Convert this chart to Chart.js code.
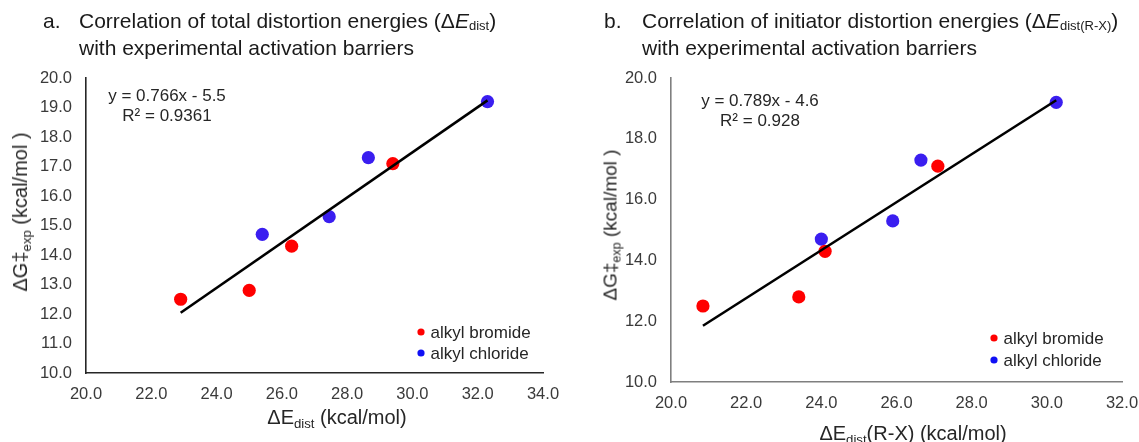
<!DOCTYPE html>
<html>
<head>
<meta charset="utf-8">
<script src="https://cdn.jsdelivr.net/npm/chart.js@4/dist/chart.umd.min.js"></script>
<style>
    html, body { margin: 0; padding: 0; background: #fff; }
    body { font-family: "Liberation Sans", Arial, sans-serif; color: #1a1a1a; }
    #wrap { position: relative; width: 1139px; height: 442px; overflow: hidden; }
    .panel { position: absolute; top: 0; height: 442px; }
    .txt { position: absolute; white-space: nowrap; line-height: 1; }
    .title { font-size: 21px; }
    .axis { font-size: 20px; color: #262626; }
    .eq { font-size: 17px; color: #262626; text-align: center; }
    .sub { font-size: 0.66em; position: relative; top: 0.3em; }
    .tsub { font-size: 0.62em; position: relative; top: 0.12em; }
    .rot { transform: translate(-50%, -50%) rotate(-90deg); }
    .ctr { transform: translate(-50%, -50%); }
</style>
</head>
<body>
<div id="wrap">
    <div class="panel" style="left:0;width:560px"><canvas id="chartA"></canvas></div>
    <div class="panel" style="left:560px;width:579px"><canvas id="chartB"></canvas></div>

    <!-- 패널 제목 -->
    <div class="txt title" style="left:43px;top:10px">a.</div>
    <div class="txt title" style="left:79px;top:10px">Correlation of total distortion energies (Δ<i>E</i><span class="tsub">dist</span>)</div>
    <div class="txt title" style="left:79px;top:37px">with experimental activation barriers</div>
    <div class="txt title" style="left:604px;top:10px">b.</div>
    <div class="txt title" style="left:642px;top:10px">Correlation of initiator distortion energies (Δ<i>E</i><span class="tsub">dist(R-X)</span>)</div>
    <div class="txt title" style="left:642px;top:37px">with experimental activation barriers</div>

    <!-- 축 제목 -->
    <div class="txt axis ctr" style="left:337px;top:417px">ΔE<span class="sub">dist</span> (kcal/mol)</div>
    <div class="txt axis rot" style="left:20px;top:212px">ΔG‡<span class="sub">exp</span> (kcal/mol )</div>
    <div class="txt axis ctr" style="left:913px;top:433px">ΔE<span class="sub">dist</span>(R-X) (kcal/mol)</div>
    <div class="txt axis rot" style="left:610px;top:225px;font-size:19px">ΔG‡<span class="sub">exp</span> (kcal/mol )</div>

    <!-- 추세선 식 -->
    <div class="txt eq ctr" id="eqA1" style="left:167px;top:95px"></div>
    <div class="txt eq ctr" id="eqA2" style="left:167px;top:115px"></div>
    <div class="txt eq ctr" id="eqB1" style="left:760px;top:100px"></div>
    <div class="txt eq ctr" id="eqB2" style="left:760px;top:120px"></div>
</div>

<script>
    // 실험 활성화 장벽 (kcal/mol)
    var bromideBarrier = [12.5, 12.8, 14.3, 17.1];
    var chlorideBarrier = [14.7, 15.3, 17.3, 19.2];

    // 전체 distortion 에너지 (a)
    var bromideTotal = [22.9, 25.0, 26.3, 29.4];
    var chlorideTotal = [25.4, 27.45, 28.65, 32.3];

    // 개시제 distortion 에너지 (b)
    var bromideInit = [20.85, 23.4, 24.1, 27.1];
    var chlorideInit = [24.0, 25.9, 26.65, 30.25];

    // 추세선 (기울기, 절편, R²)
    var fitTotal = {slope: 0.766, intercept: -5.5, r2: '0.9361'};
    var fitInit = {slope: 0.789, intercept: -4.6, r2: '0.928'};

    var seriesLabels = ['alkyl bromide', 'alkyl chloride'];
    var xTicksA = [20, 22, 24, 26, 28, 30, 32, 34];
    var yTicksA = [10, 11, 12, 13, 14, 15, 16, 17, 18, 19, 20];
    var xTicksB = [20, 22, 24, 26, 28, 30, 32];
    var yTicksB = [10, 12, 14, 16, 18, 20];

    var RED = '#ff0000';
    var BLUE = '#3a1ef0';
    var FONT = '"Liberation Sans", Arial, sans-serif';

    function pts(xs, ys) {
        return xs.map(function (x, i) { return {x: x, y: ys[i]}; });
    }

    function fitLine(fit, xs) {
        var lo = Math.min.apply(null, xs), hi = Math.max.apply(null, xs);
        return [
            {x: lo, y: fit.slope * lo + fit.intercept},
            {x: hi, y: fit.slope * hi + fit.intercept}
        ];
    }

    function fitText(fit) {
        var b = fit.intercept < 0 ? ' - ' + Math.abs(fit.intercept) : ' + ' + fit.intercept;
        return 'y = ' + fit.slope + 'x' + b;
    }

    // 플롯 안쪽 범례 (점 + 라벨)
    var dotLegend = {
        id: 'dotLegend',
        afterDraw: function (chart, args, opts) {
            var ctx = chart.ctx;
            var n = 0;
            ctx.save();
            ctx.font = '17px ' + FONT;
            ctx.textBaseline = 'middle';
            chart.data.datasets.forEach(function (ds) {
                if (!ds.legendLabel) return;
                var y = opts.y + n * opts.gap;
                ctx.fillStyle = ds.legendColor;
                ctx.beginPath();
                ctx.arc(opts.x, y, 3.6, 0, Math.PI * 2);
                ctx.fill();
                ctx.fillStyle = '#262626';
                ctx.fillText(ds.legendLabel, opts.x + 9.5, y + 1);
                n++;
            });
            ctx.restore();
        }
    };

    function makeChart(id, cfg) {
        var allX = cfg.bromX.concat(cfg.chlorX);
        var fixX = function (s) { s.height = cfg.xHeight; s.paddingLeft = 0; s.paddingRight = 0; };
        var fixY = function (s) { s.width = cfg.yWidth; s.paddingTop = 0; s.paddingBottom = 0; };
        return new Chart(document.getElementById(id).getContext('2d'), {
            type: 'scatter',
            data: {
                datasets: [{
                    type: 'line',
                    data: fitLine(cfg.fit, allX),
                    borderColor: '#000',
                    borderWidth: 2.6,
                    pointRadius: 0,
                    order: 0
                }, {
                    legendLabel: seriesLabels[0],
                    legendColor: RED,
                    data: pts(cfg.bromX, bromideBarrier),
                    backgroundColor: RED,
                    borderWidth: 0,
                    pointRadius: 6.6,
                    order: 1
                }, {
                    legendLabel: seriesLabels[1],
                    legendColor: '#1010f5',
                    data: pts(cfg.chlorX, chlorideBarrier),
                    backgroundColor: BLUE,
                    borderWidth: 0,
                    pointRadius: 6.6,
                    order: 2
                }]
            },
            options: {
                responsive: true,
                maintainAspectRatio: false,
                animation: false,
                layout: {padding: {top: cfg.top, right: cfg.right, left: 0, bottom: 0}},
                plugins: {
                    legend: {display: false},
                    tooltip: {enabled: false},
                    dotLegend: cfg.legend
                },
                scales: {
                    x: {
                        type: 'linear',
                        min: cfg.xTicks[0],
                        max: cfg.xTicks[cfg.xTicks.length - 1],
                        afterBuildTicks: function (s) { s.ticks = cfg.xTicks.map(function (v) { return {value: v}; }); },
                        afterFit: fixX,
                        grid: {display: false, drawTicks: false},
                        border: {display: true, color: cfg.axisColor, width: cfg.axisWidth},
                        ticks: {
                            padding: 12,
                            maxRotation: 0,
                            color: '#3a3a3a',
                            font: {family: FONT, size: 16.5},
                            callback: function (v) { return v.toFixed(1); }
                        }
                    },
                    y: {
                        type: 'linear',
                        min: cfg.yTicks[0],
                        max: cfg.yTicks[cfg.yTicks.length - 1],
                        afterBuildTicks: function (s) { s.ticks = cfg.yTicks.map(function (v) { return {value: v}; }); },
                        afterFit: fixY,
                        grid: {display: false, drawTicks: false},
                        border: {display: true, color: cfg.axisColor, width: cfg.axisWidth},
                        ticks: {
                            padding: 14,
                            color: '#3a3a3a',
                            font: {family: FONT, size: 16.5},
                            callback: function (v) { return v.toFixed(1); }
                        }
                    }
                }
            },
            plugins: [dotLegend]
        });
    }

    makeChart('chartA', {
        bromX: bromideTotal, chlorX: chlorideTotal, fit: fitTotal,
        xTicks: xTicksA, yTicks: yTicksA,
        top: 78, right: 17, xHeight: 69, yWidth: 86,
        axisColor: '#262626', axisWidth: 1.6,
        legend: {x: 421, y: 332, gap: 21}
    });

    makeChart('chartB', {
        bromX: bromideInit, chlorX: chlorideInit, fit: fitInit,
        xTicks: xTicksB, yTicks: yTicksB,
        top: 78, right: 17, xHeight: 60, yWidth: 111,
        axisColor: '#7f7f7f', axisWidth: 1.6,
        legend: {x: 434, y: 338, gap: 22}
    });

    document.getElementById('eqA1').textContent = fitText(fitTotal);
    document.getElementById('eqA2').textContent = 'R² = ' + fitTotal.r2;
    document.getElementById('eqB1').textContent = fitText(fitInit);
    document.getElementById('eqB2').textContent = 'R² = ' + fitInit.r2;
</script>
</body>
</html>
